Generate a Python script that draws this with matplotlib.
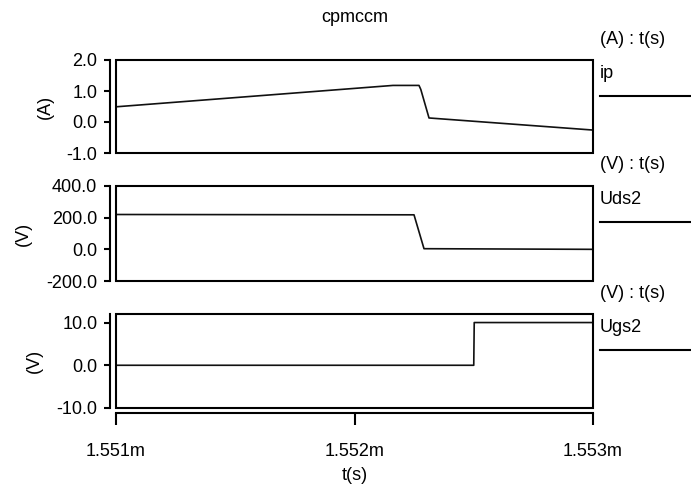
import matplotlib
matplotlib.use("Agg")
import matplotlib.pyplot as plt
from matplotlib.patches import Rectangle
from matplotlib.lines import Line2D

plt.rcParams['font.family'] = ['Liberation Sans', 'DejaVu Sans']
plt.rcParams['font.size'] = 13

# data (time in seconds)
t_ip = [1.551e-3, 1.5521614e-3, 1.5522704e-3, 1.5522780e-3, 1.5523124e-3, 1.553e-3]
ip = [0.49, 1.18, 1.18, 1.05, 0.13, -0.26]

t_uds = [1.551e-3, 1.5522495e-3, 1.5522914e-3, 1.553e-3]
uds2 = [220.0, 218.0, 4.0, 0.0]

t_ugs = [1.551e-3, 1.5525e-3, 1.552502e-3, 1.553e-3]
ugs2 = [0.0, 0.0, 10.0, 10.0]

xticks = [1.551e-3, 1.552e-3, 1.553e-3]
xticklabels = ["1.551m", "1.552m", "1.553m"]

panels = [
    dict(t=t_ip, y=ip, ylim=(-1, 2), yticks=[-1, 0, 1, 2],
         yticklabels=["-1.0", "0.0", "1.0", "2.0"], ylabel="(A)",
         unit="(A) : t(s)", name="ip", box=(60, 153), labx=45),
    dict(t=t_uds, y=uds2, ylim=(-200, 400), yticks=[-200, 0, 200, 400],
         yticklabels=["-200.0", "0.0", "200.0", "400.0"], ylabel="(V)",
         unit="(V) : t(s)", name="Uds2", box=(186, 281), labx=23),
    dict(t=t_ugs, y=ugs2, ylim=(-10, 12), yticks=[-10, 0, 10],
         yticklabels=["-10.0", "0.0", "10.0"], ylabel="(V)",
         unit="(V) : t(s)", name="Ugs2", box=(314, 408), labx=34),
]

W, H = 691, 484
fig = plt.figure(figsize=(W / 100, H / 100), dpi=100)
x0, x1 = 116, 593

for i, p in enumerate(panels):
    top, bot = p["box"]
    ax = fig.add_axes([x0 / W, 1 - bot / H, (x1 - x0) / W, (bot - top) / H])
    ax.plot(p["t"], p["y"], color="#111111", lw=1.2)
    ax.set_xlim(xticks[0], xticks[-1])
    ax.set_ylim(*p["ylim"])
    ax.set_yticks(p["yticks"])
    ax.set_yticklabels(p["yticklabels"])
    for s in ["top", "right", "bottom"]:
        ax.spines[s].set_visible(False)
    ax.spines["left"].set_position(("outward", 4.5))
    ax.spines["left"].set_linewidth(1.5)
    ax.add_patch(Rectangle((0, 0), 1, 1, transform=ax.transAxes, fill=False,
                           lw=1.5, ec="black", clip_on=False, zorder=5))
    ax.tick_params(axis="y", direction="out", length=4, width=1.5, pad=5)
    ax.set_ylabel(p["ylabel"])
    ax.yaxis.label.set_verticalalignment("center")
    ax.yaxis.set_label_coords((p["labx"] - x0) / (x1 - x0), 0.5)
    if i == 2:
        ax.spines["bottom"].set_visible(True)
        ax.spines["bottom"].set_position(("outward", 3.8))
        ax.spines["bottom"].set_linewidth(1.5)
        ax.set_xticks(xticks)
        ax.set_xticklabels(xticklabels)
        ax.tick_params(axis="x", direction="out", length=8.5, width=1.5, pad=13)
        ax.set_xlabel("t(s)", labelpad=5)
    else:
        ax.set_xticks([])
    # right side annotations
    fig.text(600 / W, 1 - (top - 21) / H, p["unit"], ha="left", va="center")
    fig.text(600 / W, 1 - (top + 14) / H, p["name"], ha="left", va="center")
    fig.add_artist(Line2D([600 / W, 1.0], [1 - (top + 36) / H] * 2,
                          transform=fig.transFigure, color="black", lw=1.5))

fig.text((x0 + x1) / 2 / W, 1 - 17 / H, "cpmccm", ha="center", va="center")

fig.savefig("out.png", dpi=100)
